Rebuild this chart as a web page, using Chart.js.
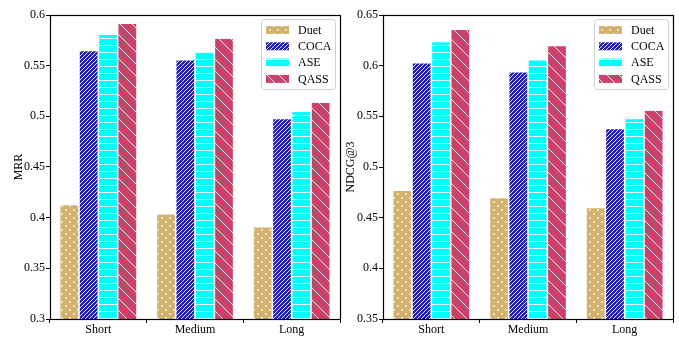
<!DOCTYPE html>
<html>
<head>
<meta charset="utf-8">
<script src="https://cdn.jsdelivr.net/npm/chart.js@4"></script>
<style>
  body { margin: 0; background: #fff; }
  #wrap { position: relative; width: 679px; height: 337px; }
  .box { position: absolute; top: 0; height: 337px; }
</style>
</head>
<body>
<div id="wrap">
  <div class="box" style="left:0;width:344px"><canvas id="mrrChart"></canvas></div>
  <div class="box" style="left:340px;width:339px"><canvas id="ndcgChart"></canvas></div>
</div>
<script>
/* values */
const categories = ["Short", "Medium", "Long"];
const methods = ["Duet", "COCA", "ASE", "QASS"];

const mrrDuet = [0.413, 0.404, 0.391];
const mrrCoca = [0.565, 0.556, 0.498];
const mrrAse  = [0.581, 0.564, 0.505];
const mrrQass = [0.592, 0.577, 0.514];

const ndcgDuet = [0.477, 0.470, 0.460];
const ndcgCoca = [0.603, 0.594, 0.538];
const ndcgAse  = [0.624, 0.606, 0.548];
const ndcgQass = [0.636, 0.620, 0.556];

const mrrTicks = [0.3, 0.35, 0.4, 0.45, 0.5, 0.55, 0.6];
const ndcgTicks = [0.35, 0.4, 0.45, 0.5, 0.55, 0.6, 0.65];

const FONT = "'Liberation Serif', 'Times New Roman', serif";

// hatch fills like matplotlib's
function makePattern(kind, base) {
    const c = document.createElement("canvas");
    const g = c.getContext("2d");
    let s = 8;
    if (kind === "dots") s = 8;
    if (kind === "dense") s = 4;
    if (kind === "hline") s = 7;
    if (kind === "back") s = 12;
    c.width = s; c.height = s;
    g.fillStyle = base;
    g.fillRect(0, 0, s, s);
    g.strokeStyle = "rgba(255,255,255,0.85)";
    g.fillStyle = "rgba(255,255,255,0.85)";
    g.lineWidth = 1;
    if (kind === "dots") {
        g.beginPath(); g.arc(2, 2, 0.9, 0, Math.PI * 2); g.fill();
        g.beginPath(); g.arc(6, 6, 0.9, 0, Math.PI * 2); g.fill();
    } else if (kind === "dense") {
        g.beginPath();
        g.moveTo(-1, s + 1); g.lineTo(s + 1, -1);
        g.moveTo(-1, 1); g.lineTo(1, -1);
        g.moveTo(s - 1, s + 1); g.lineTo(s + 1, s - 1);
        g.stroke();
    } else if (kind === "hline") {
        g.beginPath(); g.moveTo(0, 3.5); g.lineTo(s, 3.5); g.stroke();
    } else if (kind === "back") {
        g.beginPath();
        g.moveTo(-1, -1); g.lineTo(s + 1, s + 1);
        g.moveTo(s - 1, -1); g.lineTo(s + 1, 1);
        g.moveTo(-1, s - 1); g.lineTo(1, s + 1);
        g.stroke();
    }
    return document.createElement("canvas").getContext("2d").createPattern(c, "repeat");
}

const fills = [
    makePattern("dots", "#d2b26e"),
    makePattern("dense", "#2323a8"),
    makePattern("hline", "#00ffff"),
    makePattern("back", "#cc416a")
];

// full frame + legend drawn inside the plot, top right
const framePlugin = {
    id: "frame",
    afterDraw(chart) {
        const ctx = chart.ctx;
        const a = chart.chartArea;
        ctx.save();
        ctx.strokeStyle = "#000";
        ctx.lineWidth = 1.2;
        ctx.strokeRect(Math.round(a.left) + 0.5, Math.round(a.top) + 0.5,
            Math.round(a.right - a.left), Math.round(a.bottom - a.top));

        const w = 74, h = 70;
        const x0 = a.right - 5 - w, y0 = a.top + 4;
        ctx.fillStyle = "rgba(255,255,255,0.85)";
        ctx.strokeStyle = "#d0d0d0";
        ctx.lineWidth = 1;
        ctx.beginPath();
        ctx.roundRect(x0 + 0.5, y0 + 0.5, w, h, 3);
        ctx.fill();
        ctx.stroke();
        ctx.font = "12px " + FONT;
        ctx.textBaseline = "middle";
        chart.data.datasets.forEach((ds, i) => {
            const cy = y0 + 11 + i * 16.3;
            ctx.fillStyle = ds.backgroundColor;
            ctx.fillRect(x0 + 5, cy - 4, 23, 8);
            ctx.fillStyle = "#000";
            ctx.fillText(ds.label, x0 + 37, cy + 0.5);
        });
        ctx.restore();
    }
};

function drawChart(id, yTitle, series, ticks, yWidth, padRight, titlePad) {
    new Chart(document.getElementById(id), {
        type: "bar",
        data: {
            labels: categories,
            datasets: series.map((vals, i) => ({
                label: methods[i],
                data: vals,
                backgroundColor: fills[i],
                borderColor: "rgba(255,255,255,0.7)",
                borderWidth: 0.8,
                categoryPercentage: 0.8,
                barPercentage: 1.0
            }))
        },
        options: {
            responsive: true,
            maintainAspectRatio: false,
            animation: false,
            events: [],
            layout: { padding: { top: 15, right: padRight, left: 0, bottom: 0 } },
            plugins: {
                legend: { display: false },
                title: { display: false },
                tooltip: { enabled: false }
            },
            scales: {
                x: {
                    grid: { drawOnChartArea: false, drawTicks: true, tickLength: 4, color: "#000" },
                    border: { display: false },
                    ticks: { color: "#000", font: { family: FONT, size: 12 }, padding: 0, maxRotation: 0 },
                    afterFit(scale) { scale.height = 18; }
                },
                y: {
                    min: ticks[0],
                    max: ticks[ticks.length - 1],
                    afterBuildTicks(scale) { scale.ticks = ticks.map(v => ({ value: v })); },
                    grid: { drawOnChartArea: false, drawTicks: true, tickLength: 4, color: "#000" },
                    border: { display: false },
                    ticks: {
                        color: "#000",
                        font: { family: FONT, size: 12 },
                        padding: 1,
                        callback: v => String(parseFloat(v.toFixed(2)))
                    },
                    title: {
                        display: true,
                        text: yTitle,
                        color: "#000",
                        font: { family: FONT, size: 12 },
                        padding: { top: titlePad, bottom: 0 }
                    },
                    afterFit(scale) { scale.width = yWidth; }
                }
            }
        },
        plugins: [framePlugin]
    });
}

drawChart("mrrChart", "MRR", [mrrDuet, mrrCoca, mrrAse, mrrQass], mrrTicks, 50, 4, 12);
drawChart("ndcgChart", "NDCG@3", [ndcgDuet, ndcgCoca, ndcgAse, ndcgQass], ndcgTicks, 43, 6, 4);
</script>
</body>
</html>
